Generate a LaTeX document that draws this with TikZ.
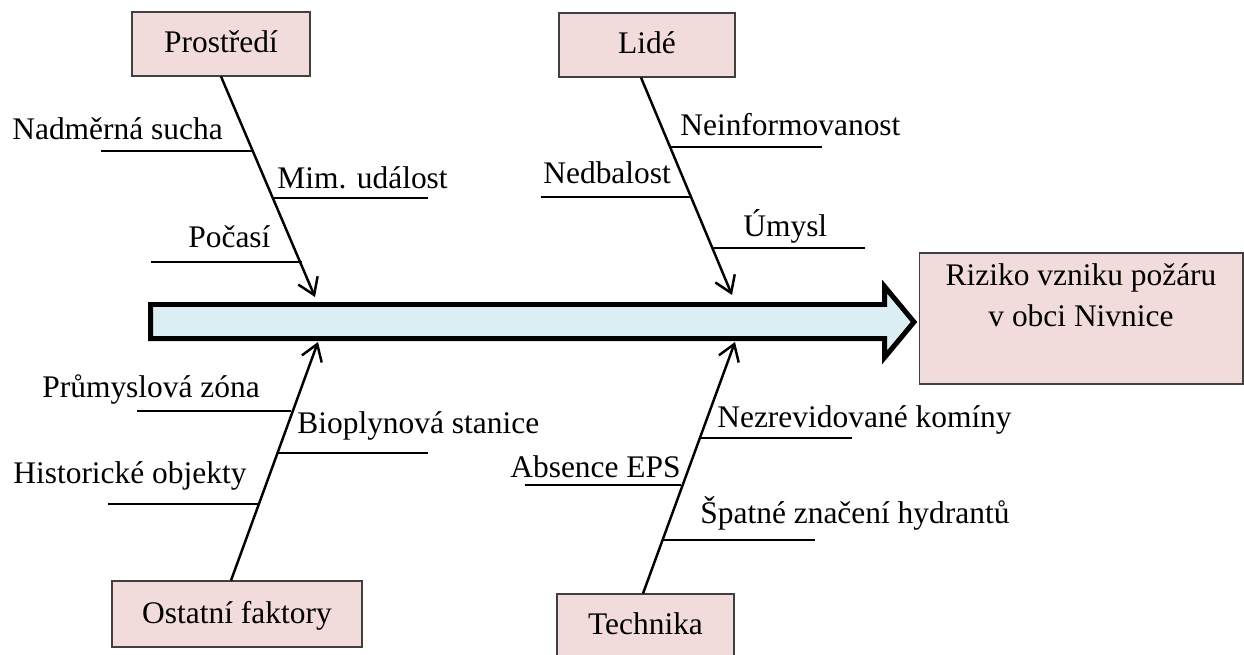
\documentclass[tikz,border=0pt]{standalone}
\usepackage{fontspec}
\setmainfont{Liberation Serif}
\usetikzlibrary{arrows.meta}
\definecolor{boxpink}{HTML}{F2DCDB}
\definecolor{spineblue}{HTML}{DAEEF3}

\begin{document}
\begin{tikzpicture}[x=0.02cm, y=-0.02cm,
  every node/.style={font=\fontsize{17.9pt}{23.8pt}\selectfont, inner sep=0pt},
  cause/.style={draw=black!75, line width=0.6pt, fill=boxpink, text height=0.44cm, text depth=0.08cm},
  bone/.style={line width=1.4pt, -{Straight Barb[length=9pt,width=12pt]}},
  sub/.style={line width=1.1pt}]
\path[clip] (0,0) rectangle (1244,655);
% hlavni sipka
\draw[line width=0.1cm, miter limit=10, fill=spineblue]
  (150.5,304.5) -- (884.5,304.5) -- (884.5,286.5) -- (914,322) -- (884.5,357.5)
  -- (884.5,338.5) -- (150.5,338.5) -- cycle;
\coordinate (tp) at (315,297);
\coordinate (tl) at (732,295);
\coordinate (to) at (318,342);
\coordinate (tt) at (735,342);
% kategorie
\node[cause, minimum width=3.56cm, minimum height=1.28cm] (prostredi) at (221,44) {Prostředí};
\node[cause, minimum width=3.52cm, minimum height=1.28cm] (lide) at (647,45) {Lidé};
\node[cause, minimum width=5cm, minimum height=1.32cm] (ostatni) at (237,614) {Ostatní faktory};
\node[cause, minimum width=3.54cm, minimum height=1.24cm] (technika) at (645.5,625) {Technika};
\node[draw=black!75, line width=0.6pt, fill=boxpink, align=center, text height=1.31cm, text depth=0.97cm,
  minimum width=6.48cm, minimum height=2.62cm] (vysledek) at (1081,318.5) {Riziko vzniku požáru\\v obci Nivnice};
% kosti
\draw[bone] (prostredi.south) -- (tp);
\draw[bone] ([xshift=-0.12cm]lide.south) -- (tl);
\draw[bone] ([xshift=-0.12cm]ostatni.north) -- (to);
\draw[bone] ([xshift=-0.05cm]technika.north) -- (tt);
% pricny
\draw[sub] (101,151) -- (253,151);
\draw[sub] (273,198) -- (428,198);
\draw[sub] (151,262) -- (302,262);
\draw[sub] (670,147) -- (822,147);
\draw[sub] (541,197) -- (692,197);
\draw[sub] (713,248) -- (865,248);
\draw[sub] (137,411) -- (291,411);
\draw[sub] (277,453) -- (428,453);
\draw[sub] (108,504) -- (259,504);
\draw[sub] (700,438) -- (852,438);
\draw[sub] (525,485) -- (681,485);
\draw[sub] (663,540) -- (815,540);
\node[anchor=base west] (sucha) at (12,140) {Nadměrná sucha};
\node[anchor=base west] (udalost) at (277,189) {Mim. událost};
\node[anchor=base west] (pocasi) at (188,248) {Počasí};
\node[anchor=base west] (neinf) at (680,136) {Neinformovanost};
\node[anchor=base west] (nedbalost) at (543,184) {Nedbalost};
\node[anchor=base west] (umysl) at (743,236) {Úmysl};
\node[anchor=base west] (zona) at (42,397) {Průmyslová zóna};
\node[anchor=base west] (bioplyn) at (297,433) {Bioplynová stanice};
\node[anchor=base west] (historicke) at (13,483) {Historické objekty};
\node[anchor=base west] (kominy) at (717,427) {Nezrevidované komíny};
\node[anchor=base west] (eps) at (510,477) {Absence EPS};
\node[anchor=base west] (hydranty) at (700,523) {Špatné značení hydrantů};
\end{tikzpicture}
\end{document}
